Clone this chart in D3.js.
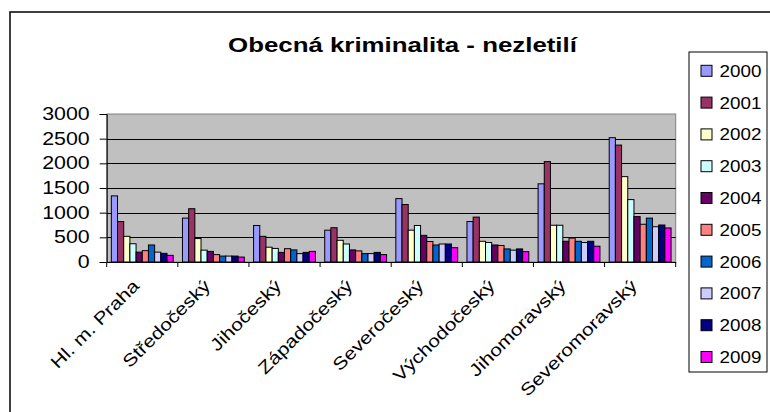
<!DOCTYPE html>
<html><head><meta charset="utf-8">
<script src="https://cdn.jsdelivr.net/npm/d3@7"></script>
<style>body{margin:0;background:#fff}svg{display:block}</style>
</head><body>
<script>
const categories = ["Hl. m. Praha","Středočeský","Jihočeský","Západočeský","Severočeský","Východočeský","Jihomoravský","Severomoravský"];
const years = ["2000","2001","2002","2003","2004","2005","2006","2007","2008","2009"];
const y2000 = [1340, 890, 740, 645, 1285, 820, 1585, 2520];
const y2001 = [820, 1080, 520, 695, 1165, 910, 2035, 2370];
const y2002 = [520, 475, 300, 440, 645, 420, 745, 1730];
const y2003 = [370, 240, 275, 365, 740, 395, 745, 1265];
const y2004 = [200, 215, 195, 245, 540, 345, 420, 920];
const y2005 = [230, 150, 270, 225, 415, 335, 485, 765];
const y2006 = [345, 120, 245, 170, 345, 265, 420, 890];
const y2007 = [200, 120, 170, 170, 365, 240, 395, 715];
const y2008 = [175, 120, 195, 195, 365, 265, 420, 750];
const y2009 = [135, 100, 215, 150, 290, 210, 320, 690];
const seriesValues = [y2000,y2001,y2002,y2003,y2004,y2005,y2006,y2007,y2008,y2009];
const colors = ["#9999FF","#993366","#FFFFCC","#CCFFFF","#660066","#FF8080","#0066CC","#CCCCFF","#000080","#FF00FF"];
const yTicks = [0,500,1000,1500,2000,2500,3000];
const title = "Obecná kriminalita - nezletilí";

const W=770,H=412;
const svg=d3.select("body").append("svg").attr("width",W).attr("height",H);
const font="'Liberation Sans', Arial, sans-serif";
function stretch(sel,k){sel.each(function(){const w=this.getComputedTextLength();this.setAttribute("textLength",w*k);this.setAttribute("lengthAdjust","spacingAndGlyphs");});}

// chart border
svg.append("rect").attr("x",10).attr("y",12).attr("width",W+20).attr("height",H+20)
  .attr("fill","#fff").attr("stroke","#000").attr("stroke-width",1.5);

const pL=106.7,pR=675.7,pT=114,pB=262;
const x=d3.scaleBand().domain(categories).range([pL,pR]).padding(0);
const y=d3.scaleLinear().domain([0,3000]).range([pB,pT]);
const bw=x.bandwidth()/11.5;
const xi=d3.scaleBand().domain(years).range([0.75*bw,0.75*bw+10*bw]).padding(0);

svg.append("rect").attr("x",pL).attr("y",pT).attr("width",pR-pL).attr("height",pB-pT).attr("fill","#C0C0C0").attr("stroke","#808080").attr("stroke-width",1);

// gridlines
svg.append("g").selectAll("line").data(yTicks.filter(d=>d>0&&d<3000)).join("line")
  .attr("x1",pL).attr("x2",pR).attr("y1",d=>Math.round(y(d))+0.5).attr("y2",d=>Math.round(y(d))+0.5)
  .attr("stroke","#000").attr("stroke-width",1);

// bars
const g=svg.append("g");
seriesValues.forEach((vals,si)=>{
  g.append("g").selectAll("rect").data(vals).join("rect")
    .attr("x",(d,i)=>x(categories[i])+xi(years[si]))
    .attr("y",d=>y(d)).attr("width",xi.bandwidth()).attr("height",d=>y(0)-y(d))
    .attr("fill",colors[si]).attr("stroke","#000").attr("stroke-width",1);
});

// y axis
const ya=svg.append("g").attr("transform",`translate(${pL},0)`)
  .call(d3.axisLeft(y).tickValues(yTicks).tickSize(7).tickPadding(10).tickFormat(d3.format("d")));
ya.select(".domain").attr("stroke","#000");
ya.selectAll(".tick line").attr("stroke","#000");
ya.selectAll("text").attr("font-family",font).attr("font-size",17.5).attr("fill","#000").call(stretch,1.22);

// x axis
const xa=svg.append("g").attr("transform",`translate(0,${pB})`)
  .call(d3.axisBottom(x).tickSize(0).tickFormat(""));
xa.select(".domain").attr("stroke","#000");
const bounds=[pL].concat(categories.map(c=>x(c)+x.bandwidth()));
xa.selectAll(".tk").data(bounds).join("line").attr("class","tk")
  .attr("x1",d=>d).attr("x2",d=>d).attr("y1",0).attr("y2",5).attr("stroke","#000");
svg.append("g").selectAll("text").data(categories).join("text")
  .attr("transform",d=>`translate(${x(d)+x.bandwidth()/2-2},${pB+25}) rotate(-45)`)
  .attr("text-anchor","end").attr("font-family",font).attr("font-size",17.5).attr("fill","#000")
  .text(d=>d).call(stretch,1.2);

// title
svg.append("text").attr("x",402.5).attr("y",52).attr("text-anchor","middle")
  .attr("font-family",font).attr("font-weight","bold").attr("font-size",21).text(title).call(stretch,1.23);

// legend
const lg=svg.append("g");
lg.append("rect").attr("x",689).attr("y",52).attr("width",78).attr("height",320).attr("fill","#fff").attr("stroke","#000").attr("stroke-width",1);
const ly=d3.scalePoint().domain(years).range([70.8,357]);
lg.selectAll("rect.sw").data(years).join("rect").attr("class","sw")
  .attr("x",701).attr("y",d=>ly(d)-5.5).attr("width",11).attr("height",11)
  .attr("fill",(d,i)=>colors[i]).attr("stroke","#000").attr("stroke-width",1);
lg.selectAll("text").data(years).join("text")
  .attr("x",719.5).attr("y",d=>ly(d)).attr("dy","0.36em")
  .attr("font-family",font).attr("font-size",16.5).attr("fill","#000").text(d=>d).call(stretch,1.14);
</script>
</body></html>
